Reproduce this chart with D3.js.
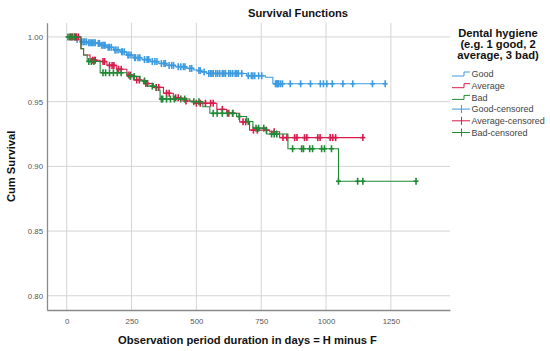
<!DOCTYPE html>
<html>
<head>
<meta charset="utf-8">
<script src="https://cdn.jsdelivr.net/npm/d3@7"></script>
<style>
  body { margin: 0; background: #fff; }
  svg { font-family: "Liberation Sans", Arial, sans-serif; }
  .grid line { stroke: #d4d4d4; stroke-width: 1; }
  .tick-label { font-size: 7.8px; fill: #555; }
  .bold-title { font-size: 11.2px; font-weight: bold; fill: #111; }
  .legend-text { font-size: 9px; fill: #444; }
</style>
</head>
<body>
<div id="km-vis"></div>
<script>
'use strict';

// Kaplan-Meier step points (day, cumulative survival)
var goodTimes = [0, 25, 52, 80, 116, 130, 155, 180, 206, 230, 256, 290, 321, 355, 386, 420, 463, 490, 502, 520, 540, 694, 766, 795];
var goodSurv  = [1.000, 0.998, 0.9962, 0.9955, 0.995, 0.9935, 0.992, 0.990, 0.9885, 0.986, 0.984, 0.9825, 0.981, 0.9795, 0.978, 0.977, 0.9757, 0.9745, 0.974, 0.973, 0.9718, 0.970, 0.9688, 0.9638];
var goodEnd = 1228;
var goodCensored = [40, 58, 64, 70, 76, 85, 90, 95, 100, 105, 110, 122, 126, 135, 140, 145, 148, 160, 165, 172, 186, 190, 198,
                    212, 215, 222, 236, 240, 248, 262, 265, 275, 282, 300, 310, 316, 330, 340, 348, 365, 375, 380, 395, 405,
                    412, 430, 440, 450, 456, 475, 482, 510, 515, 530, 548, 555, 560, 565, 575, 582, 590, 600, 606, 612, 625,
                    632, 640, 650, 656, 662, 675, 700, 712, 718, 725, 740, 752, 805, 809, 812, 815, 818, 825, 832, 862, 902,
                    940, 978, 990, 1003, 1024, 1065, 1103, 1179, 1228];

var avgTimes = [0, 55, 65, 90, 129, 155, 193, 232, 257, 296, 334, 373, 411, 448, 488, 579, 617, 667, 705, 783, 821];
var avgSurv  = [1.000, 0.991, 0.986, 0.982, 0.981, 0.978, 0.975, 0.9705, 0.9667, 0.964, 0.961, 0.9565, 0.953, 0.9505, 0.9488,
                0.944, 0.941, 0.9344, 0.928, 0.9267, 0.9222];
var avgEnd = 1142;
var avgCensored = [15, 22, 30, 34, 38, 45, 100, 106, 110, 140, 146, 165, 175, 182, 200, 210, 240, 246, 270, 280, 305, 312, 345,
                   355, 385, 395, 420, 430, 460, 500, 515, 535, 555, 565, 600, 625, 640, 680, 690, 720, 735, 770, 800, 834,
                   849, 879, 888, 917, 926, 968, 977, 1016, 1026, 1037, 1142];

var badTimes = [0, 55, 65, 79, 129, 233, 283, 310, 345, 360, 475, 525, 552, 655, 694, 718, 771, 853, 1048];
var badSurv  = [1.000, 0.991, 0.986, 0.981, 0.9723, 0.9695, 0.966, 0.962, 0.959, 0.952, 0.950, 0.946, 0.941, 0.9385,
                0.9346, 0.9295, 0.925, 0.9136, 0.8885];
var badEnd = 1347;
var badCensored = [5, 12, 20, 30, 85, 95, 105, 140, 150, 165, 180, 195, 210, 245, 260, 300, 330, 365, 370, 385, 400, 415,
                   440, 455, 490, 510, 565, 580, 600, 620, 640, 665, 700, 730, 740, 760, 790, 800, 810, 871, 906, 913, 937,
                   948, 983, 994, 1021, 1048, 1122, 1142, 1347];

var xTicks = [0, 250, 500, 750, 1000, 1250];
var yTicks = [0.80, 0.85, 0.90, 0.95, 1.00];

var groupNames = ['Good', 'Average', 'Bad'];
var groupColors = ['#3d9be0', '#d81b4c', '#1f8a35'];
var legendLabels = ['Good', 'Average', 'Bad', 'Good-censored', 'Average-censored', 'Bad-censored'];
var legendTitle = ['Dental hygiene', '(e.g. 1 good, 2', 'average, 3 bad)'];

var width = 550, height = 351;
var plot = { left: 47, right: 450, top: 22.7, bottom: 310 };

var svg = d3.select('#km-vis')
    .append('svg')
    .attr('width', width)
    .attr('height', height);

var x = d3.scaleLinear().domain([-76, 1478]).range([plot.left, plot.right]);
var y = d3.scaleLinear().domain([0.789, 1.011]).range([plot.bottom, plot.top]);

// gridlines
var grid = svg.append('g').classed('grid', true);
grid.selectAll('.hgrid')
    .data(yTicks)
    .join('line')
    .attr('x1', plot.left).attr('x2', plot.right)
    .attr('y1', function (d) { return y(d); })
    .attr('y2', function (d) { return y(d); });
grid.selectAll('.vgrid')
    .data(xTicks)
    .join('line')
    .attr('y1', plot.top).attr('y2', plot.bottom)
    .attr('x1', function (d) { return x(d); })
    .attr('x2', function (d) { return x(d); });

// axes, no tick marks, just the line and labels
var xAxis = svg.append('g')
    .attr('transform', 'translate(0,' + plot.bottom + ')')
    .call(d3.axisBottom(x).tickValues(xTicks).tickSize(0).tickPadding(8).tickFormat(d3.format('d')));
var yAxis = svg.append('g')
    .attr('transform', 'translate(' + plot.left + ',0)')
    .call(d3.axisLeft(y).tickValues(yTicks).tickSize(0).tickPadding(4).tickFormat(d3.format('.2f')));

[xAxis, yAxis].forEach(function (ax) {
  ax.select('.domain').attr('stroke', '#8a8a8a').attr('stroke-width', 1.3);
  ax.selectAll('text').attr('class', 'tick-label').attr('fill', '#555').attr('font-family', null).attr('font-size', null);
});

// survival step curves
var groups = [
  { times: goodTimes, surv: goodSurv, end: goodEnd, censored: goodCensored },
  { times: avgTimes, surv: avgSurv, end: avgEnd, censored: avgCensored },
  { times: badTimes, surv: badSurv, end: badEnd, censored: badCensored }
];

var line = d3.line()
    .x(function (d) { return x(d[0]); })
    .y(function (d) { return y(d[1]); })
    .curve(d3.curveStepAfter);

var bisect = d3.bisector(function (d) { return d; }).right;

groups.forEach(function (g, i) {
  var pts = g.times.map(function (t, k) { return [t, g.surv[k]]; });
  pts.push([g.end, g.surv[g.surv.length - 1]]);

  svg.append('path')
      .datum(pts)
      .attr('fill', 'none')
      .attr('stroke', groupColors[i])
      .attr('stroke-width', 1.1)
      .attr('d', line);

  // censor marks sit on the curve value at that time
  var marks = svg.append('g').attr('stroke', groupColors[i]).attr('stroke-width', 1.6);
  g.censored.forEach(function (t) {
    var s = g.surv[bisect(g.times, t) - 1];
    var cx = x(t), cy = y(s);
    marks.append('line').attr('x1', cx).attr('x2', cx).attr('y1', cy - 3.5).attr('y2', cy + 3.5);
    marks.append('line').attr('x1', cx - 2.5).attr('x2', cx + 2.5).attr('y1', cy).attr('y2', cy);
  });
});

// titles
svg.append('text')
    .classed('bold-title', true)
    .attr('x', 298).attr('y', 17)
    .attr('text-anchor', 'middle')
    .text('Survival Functions');

svg.append('text')
    .classed('bold-title', true)
    .attr('x', 247.5).attr('y', 344)
    .attr('text-anchor', 'middle')
    .text('Observation period duration in days = H minus F');

svg.append('text')
    .classed('bold-title', true)
    .attr('transform', 'translate(15,' + ((plot.top + plot.bottom) / 2) + ') rotate(-90)')
    .attr('text-anchor', 'middle')
    .text('Cum Survival');

// legend
var legend = svg.append('g');
legendTitle.forEach(function (t, i) {
  legend.append('text')
      .classed('bold-title', true)
      .attr('x', 498).attr('y', 36.5 + i * 11.2)
      .attr('text-anchor', 'middle')
      .text(t);
});

legendLabels.forEach(function (label, i) {
  var cy = 74 + i * 11.7;
  var col = groupColors[i % 3];
  var item = legend.append('g').attr('stroke', col).attr('fill', 'none').attr('stroke-width', 1);
  if (i < 3) {
    item.append('path')
        .attr('d', 'M452,' + (cy + 2) + 'H464V' + (cy - 2) + 'H470');
  } else {
    item.append('line').attr('x1', 452).attr('x2', 470).attr('y1', cy).attr('y2', cy);
    item.append('line').attr('x1', 461.5).attr('x2', 461.5).attr('y1', cy - 4).attr('y2', cy + 4);
  }
  legend.append('text')
      .classed('legend-text', true)
      .attr('x', 471.5).attr('y', cy + 3.2)
      .text(label);
});
</script>
</body>
</html>
